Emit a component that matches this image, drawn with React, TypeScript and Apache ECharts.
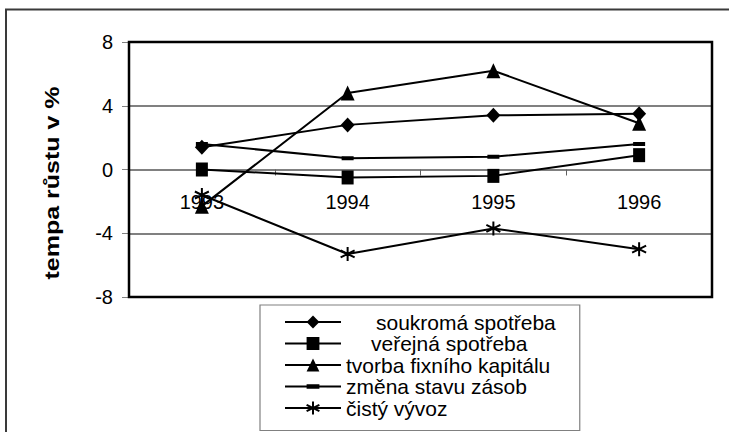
import React, { useEffect, useRef } from "react";
import * as echarts from "echarts";

const years = ["1993", "1994", "1995", "1996"];
const seriesNames = [
  "soukromá spotřeba",
  "veřejná spotřeba",
  "tvorba fixního kapitálu",
  "změna stavu zásob",
  "čistý vývoz",
];
const soukroma = [1.4, 2.8, 3.4, 3.5];
const verejna = [0, -0.5, -0.4, 0.9];
const tvorba = [-2.3, 4.8, 6.2, 2.9];
const zmena = [1.6, 0.7, 0.8, 1.6];
const cisty = [-1.6, -5.3, -3.7, -5.0];
const yMin = -8;
const yMax = 8;
const yStep = 4;
const yTitle = "tempa růstu v %";
const legendIndent = [30, 25, 0, 0, 0];

const FONT = '"Liberation Sans", Arial, sans-serif';

const dashSymbol =
  "path://M0,0L0.01,0L0,0.01ZM0,4L12,4L12,8L0,8ZM12,12L11.99,12L12,11.99Z";
const starSymbol = "path://M6,0L6,12M0.8,3L11.2,9M0.8,9L11.2,3";

const CHART_W = 729;
const CHART_H = 432;
const GRID_LEFT = 129;
const GRID_RIGHT = 17;
const GRID_TOP = 42;
const GRID_BOTTOM = 135;

export default function App() {
  const ref = useRef<HTMLDivElement>(null);

  useEffect(() => {
    if (!ref.current) return;
    const chart = echarts.init(ref.current, null, { renderer: "svg" });

    const baseLine = { color: "#000", width: 2 };
    const mk = (name: string, data: number[], symbol: string, size: any, extra: any = {}) => ({
      name,
      type: "line",
      data,
      symbol,
      symbolSize: size,
      lineStyle: baseLine,
      itemStyle: { color: "#000", ...(extra.itemStyle || {}) },
      z: 3,
    });

    const rich: any = {};
    seriesNames.forEach((n, i) => {
      rich["p" + i] = {
        fontSize: 21,
        fontFamily: FONT,
        color: "#000",
        lineHeight: 21,
        padding: [0, 0, 0, legendIndent[i]],
      };
    });

    const gridW = CHART_W - GRID_LEFT - GRID_RIGHT;
    const gridH = CHART_H - GRID_TOP - GRID_BOTTOM;
    // place the category axis on the zero line of the value axis
    const zeroFromBottom = ((0 - yMin) / (yMax - yMin)) * gridH;

    chart.setOption({
      animation: false,
      backgroundColor: "#fff",
      graphic: [
        {
          type: "rect",
          shape: { x: 6, y: 9.5, width: 900, height: 600 },
          style: { fill: "none", stroke: "#3a3a3a", lineWidth: 2 },
          silent: true,
          z: -1,
        },
        {
          type: "rect",
          shape: { x: GRID_LEFT, y: GRID_TOP, width: gridW, height: gridH },
          style: { fill: "none", stroke: "#000", lineWidth: 2.5 },
          silent: true,
          z: 10,
        },
        {
          type: "text",
          x: 52,
          y: 183,
          rotation: Math.PI / 2,
          scaleX: 1.19,
          style: {
            text: yTitle,
            font: `bold 21px ${FONT}`,
            textAlign: "center",
            textVerticalAlign: "middle",
            fill: "#000",
          },
        },
      ],
      grid: {
        left: GRID_LEFT,
        top: GRID_TOP,
        right: GRID_RIGHT,
        bottom: GRID_BOTTOM,
        show: false,
      },
      legend: {
        orient: "vertical",
        left: 260,
        top: 305,
        padding: [6.5, 24, 12, 24],
        itemGap: 0.5,
        itemWidth: 56,
        itemHeight: 16,
        borderColor: "#808080",
        borderWidth: 1.2,
        data: seriesNames,
        formatter: (name: string) => {
          const i = seriesNames.indexOf(name);
          return `{p${i}|${name}}`;
        },
        textStyle: {
          fontSize: 21,
          fontFamily: FONT,
          color: "#000",
          lineHeight: 21,
          rich,
        },
      },
      xAxis: {
        type: "category",
        data: years,
        boundaryGap: true,
        position: "bottom",
        offset: -zeroFromBottom,
        axisLine: { show: true, onZero: false, lineStyle: { color: "#808080", width: 2 } },
        axisTick: { show: true, length: 6, lineStyle: { color: "#606060", width: 1 } },
        axisLabel: { fontSize: 20, fontFamily: FONT, color: "#000", margin: 22 },
        splitLine: { show: false },
        z: 1,
      },
      yAxis: {
        type: "value",
        min: yMin,
        max: yMax,
        interval: yStep,
        axisLine: { show: false },
        axisTick: { show: true, length: 7, lineStyle: { color: "#808080", width: 1 } },
        axisLabel: { fontSize: 20, fontFamily: FONT, color: "#000", margin: 16 },
        splitLine: { show: true, lineStyle: { color: "#808080", width: 2 } },
      },
      series: [
        mk(seriesNames[0], soukroma, "diamond", [14, 15]),
        mk(seriesNames[1], verejna, "rect", [12, 14]),
        mk(seriesNames[2], tvorba, "triangle", [14, 15]),
        mk(seriesNames[3], zmena, dashSymbol, 12),
        mk(seriesNames[4], cisty, starSymbol, 14, {
          itemStyle: { borderColor: "#000", borderWidth: 2 },
        }),
      ],
    });

    return () => chart.dispose();
  }, []);

  return (
    <div
      ref={ref}
      style={{ position: "fixed", left: 0, top: 0, width: CHART_W, height: CHART_H }}
    />
  );
}
